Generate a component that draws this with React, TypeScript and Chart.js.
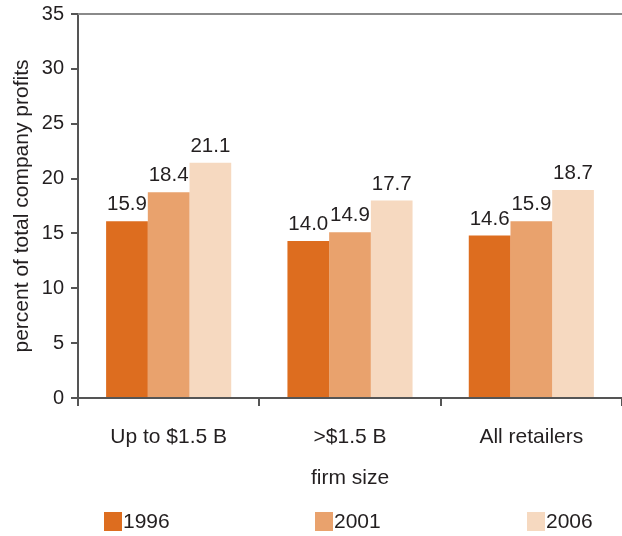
import React, { useEffect, useRef } from "react";
import { Chart, registerables } from "chart.js";

Chart.register(...registerables);

const categories = ["Up to $1.5 B", ">$1.5 B", "All retailers"];
const seriesNames = ["1996", "2001", "2006"];
const values1996 = [16.1, 14.3, 14.8];
const values2001 = [18.75, 15.1, 16.1];
const values2006 = [21.45, 18.0, 18.95];
const labels1996 = ["15.9", "14.0", "14.6"];
const labels2001 = ["18.4", "14.9", "15.9"];
const labels2006 = ["21.1", "17.7", "18.7"];
const colors = ["#dd6d1f", "#e9a26d", "#f6d9c0"];
const yTicks = [0, 5, 10, 15, 20, 25, 30, 35];

const FONT = "'Liberation Sans', Arial, Helvetica, sans-serif";
const TEXT = "#231f20";

const valueLabelPlugin = {
  id: "valueLabels",
  afterDatasetsDraw(chart: any) {
    const ctx = chart.ctx;
    const labelSets = [labels1996, labels2001, labels2006];
    ctx.save();
    ctx.font = `20.5px ${FONT}`;
    ctx.fillStyle = TEXT;
    ctx.textAlign = "center";
    ctx.textBaseline = "alphabetic";
    chart.data.datasets.forEach((_: any, di: number) => {
      const meta = chart.getDatasetMeta(di);
      meta.data.forEach((bar: any, i: number) => {
        ctx.fillText(labelSets[di][i], bar.x, bar.y - 11);
      });
    });
    ctx.restore();
  },
};

const framePlugin = {
  id: "frame",
  afterDraw(chart: any) {
    const ctx = chart.ctx;
    const { left, right, top } = chart.chartArea;
    ctx.save();
    ctx.strokeStyle = "#8a8a8a";
    ctx.lineWidth = 2;
    ctx.beginPath();
    ctx.moveTo(left, top);
    ctx.lineTo(right, top);
    ctx.stroke();
    ctx.restore();
  },
};

const legendPlugin = {
  id: "customLegend",
  afterDraw(chart: any) {
    const ctx = chart.ctx;
    const xs = [104, 315, 527];
    ctx.save();
    ctx.font = `21px ${FONT}`;
    ctx.textBaseline = "middle";
    ctx.textAlign = "left";
    seriesNames.forEach((name, i) => {
      ctx.fillStyle = colors[i];
      ctx.fillRect(xs[i], 512, 18, 19);
      ctx.fillStyle = TEXT;
      ctx.fillText(name, xs[i] + 19, 522);
    });
    ctx.restore();
  },
};

export default function App() {
  const ref = useRef<HTMLCanvasElement>(null);

  useEffect(() => {
    if (!ref.current) return;
    const chart = new Chart(ref.current, {
      type: "bar",
      data: {
        labels: categories,
        datasets: [values1996, values2001, values2006].map((vals, i) => ({
          label: seriesNames[i],
          data: vals,
          backgroundColor: colors[i],
          borderWidth: 0,
          categoryPercentage: 0.69,
          barPercentage: 1,
        })),
      },
      options: {
        animation: false,
        responsive: true,
        maintainAspectRatio: false,
        layout: { padding: { top: 14, left: 0, right: 0, bottom: 45 } },
        plugins: {
          legend: { display: false },
          tooltip: { enabled: false },
        },
        scales: {
          x: {
            grid: {
              display: true,
              offset: true,
              drawOnChartArea: false,
              tickLength: 8,
              color: "#555",
              lineWidth: 2,
            },
            border: { display: true, color: "#555", width: 2 },
            ticks: {
              padding: 19,
              color: TEXT,
              font: { family: FONT, size: 21 },
              maxRotation: 0,
            },
            title: {
              display: true,
              text: "firm size",
              color: TEXT,
              font: { family: FONT, size: 21 },
              padding: { top: 0, bottom: 0 },
            },
            afterFit: (s: any) => {
              s.height = 93;
              s.paddingLeft = 0;
              s.paddingRight = 0;
            },
          },
          y: {
            min: 0,
            max: 35,
            afterBuildTicks: (s: any) => {
              s.ticks = yTicks.map((v) => ({ value: v }));
            },
            grid: {
              display: true,
              drawOnChartArea: false,
              tickLength: 7,
              color: "#555",
              lineWidth: 2,
            },
            border: { display: true, color: "#555", width: 2 },
            ticks: {
              padding: 7,
              color: TEXT,
              font: { family: FONT, size: 20 },
            },
            title: {
              display: true,
              text: "percent of total company profits",
              color: TEXT,
              font: { family: FONT, size: 21 },
              padding: { top: 10, bottom: 0 },
            },
            afterFit: (s: any) => {
              s.width = 78;
              s.paddingTop = 0;
              s.paddingBottom = 0;
            },
          },
        },
      },
      plugins: [valueLabelPlugin, framePlugin, legendPlugin],
    });
    return () => chart.destroy();
  }, []);

  return (
    <div style={{ position: "fixed", left: 0, top: 0, width: 622, height: 536, background: "#fff" }}>
      <canvas ref={ref} />
    </div>
  );
}
